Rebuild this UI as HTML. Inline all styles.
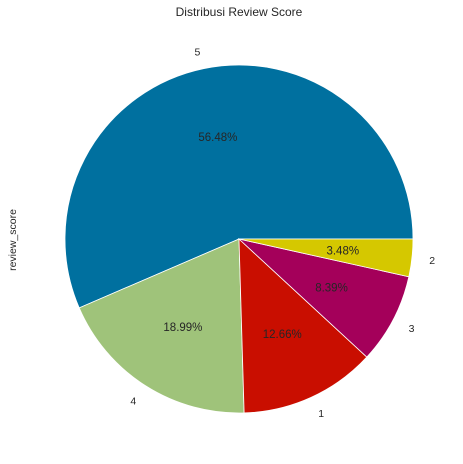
<!DOCTYPE html>
<html><head><meta charset="utf-8"><style>
body{margin:0;background:#fff;}
svg{display:block;font-family:"Liberation Sans","DejaVu Sans",sans-serif;}
</style></head><body>
<svg id="chart" width="463" height="464">
<text x="239" y="16" text-anchor="middle" font-size="12" fill="#262626">Distribusi Review Score</text>
<text x="0" y="0" transform="translate(16,240) rotate(-90)" text-anchor="middle" font-size="10.5" fill="#262626">review_score</text>
<g id="slices"></g>
</svg>
<script>
const categories = ["5","4","1","3","2"];
const values = [56.48, 18.99, 12.66, 8.39, 3.48];
const pctLabels = ["56.48%","18.99%","12.66%","8.39%","3.48%"];
const colors = ["#00709f","#9fc37a","#c90e00","#a4005a","#d5c800"];
const cx = 239, cy = 239, r = 174;
const g = document.getElementById('slices');
const ns = "http://www.w3.org/2000/svg";
const total = values.reduce((a,b)=>a+b,0);
let start = 0;
function pt(a, rad){ return [cx + rad*Math.cos(a*Math.PI/180), cy - rad*Math.sin(a*Math.PI/180)]; }
values.forEach((v,i)=>{
  const sweep = v/total*360, end = start + sweep;
  const [x1,y1] = pt(start, r), [x2,y2] = pt(end, r);
  const p = document.createElementNS(ns,'path');
  p.setAttribute('d', `M${cx},${cy} L${x1},${y1} A${r},${r} 0 ${sweep>180?1:0} 0 ${x2},${y2} Z`);
  p.setAttribute('fill', colors[i]);
  p.setAttribute('stroke', '#fff');
  p.setAttribute('stroke-width', '0.8');
  
  
  g.appendChild(p);
  const mid = start + sweep/2;
  const [lx,ly] = pt(mid, r*1.1);
  const t = document.createElementNS(ns,'text');
  t.setAttribute('x', lx); t.setAttribute('y', ly+4);
  t.setAttribute('text-anchor', Math.cos(mid*Math.PI/180) >= 0 ? 'start' : 'end');
  t.setAttribute('font-size', '10.5'); t.setAttribute('fill', '#262626');
  t.textContent = categories[i];
  
  
  g.appendChild(t);
  const [px,py] = pt(mid, r*0.6);
  const q = document.createElementNS(ns,'text');
  q.setAttribute('x', px); q.setAttribute('y', py+4);
  q.setAttribute('text-anchor', 'middle');
  q.setAttribute('font-size', '11.5'); q.setAttribute('fill', '#262626');
  q.textContent = pctLabels[i];
  
  
  g.appendChild(q);
  start = end;
});
</script>
</body></html>
